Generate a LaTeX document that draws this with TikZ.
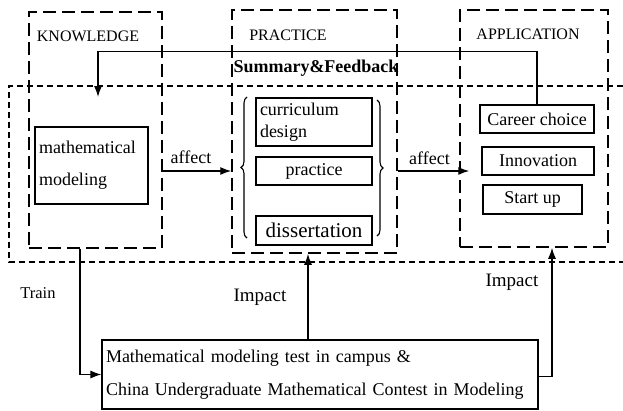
\documentclass[tikz,border=0pt]{standalone}
\usepackage{fontspec}
\setmainfont{Liberation Serif}
\usetikzlibrary{arrows.meta, decorations.pathreplacing}
\tikzset{group/.style={draw, line width=1.5pt, dash pattern=on 13pt off 6pt}}
\tikzset{region/.style={line width=1.1pt, dash pattern=on 6pt off 4pt}}
\tikzset{item/.style={draw, line width=1.1pt, inner sep=0pt, font=\fontsize{18}{22}\selectfont}}
\tikzset{flow/.style={line width=1.3pt, -{Latex[length=11pt, width=8pt]}}}
\tikzset{heading/.style={font=\fontsize{16}{19}\selectfont}}
\tikzset{tag/.style={font=\fontsize{18}{22}\selectfont}}
\tikzset{curly/.style={line width=1.1pt, decorate, decoration={brace, amplitude=6pt}}}

\begin{document}
\begin{tikzpicture}[x=1pt, y=-1pt]
            \useasboundingbox (0, 0) rectangle (623, 410);
            % the three stages
            \draw[region] (623, 86) -| (9, 262) -- (623, 262);
            \node[group, minimum width=133pt, minimum height=236pt] (knowledge) at (95.5, 130) {};
            \node[group, minimum width=165pt, minimum height=243pt] (practicegroup) at (314.5, 131.5) {};
            \node[group, minimum width=148pt, minimum height=237pt] (application) at (534, 128.5) {};
            \node[heading] (knowledgetitle) at (88, 36.5) {KNOWLEDGE};
            \node[heading] (practicetitle) at (288, 35) {PRACTICE};
            \node[heading] (applicationtitle) at (528, 34) {APPLICATION};
            % boxes
            \node[item, minimum width=113pt, minimum height=77pt, text width=105pt, align=left, font=\fontsize{18}{32}\selectfont] (modeling) at (91.5, 165.5) {mathematical\\modeling};
            \node[item, minimum width=116pt, minimum height=48pt, text width=108pt, align=left] (curriculum) at (314, 122) {curriculum\\design};
            \node[item, minimum width=116pt, minimum height=28pt] (practice) at (314, 171) {practice};
            \node[item, minimum width=116pt, minimum height=29pt, font=\fontsize{21}{25}\selectfont] (dissertation) at (314, 230.5) {dissertation};
            \node[item, minimum width=114pt, minimum height=28pt] (career) at (537, 119) {Career choice};
            \node[item, minimum width=112pt, minimum height=28pt] (innovation) at (538, 161) {Innovation};
            \node[item, minimum width=99pt, minimum height=29pt] (startup) at (532.5, 199.5) {Start up};
            \node[item, minimum width=436pt, minimum height=69pt, text width=428pt, align=left, font=\fontsize{18}{33}\selectfont] (contest) at (320, 374.5) {Mathematical modeling test in campus \&\\China Undergraduate Mathematical Contest in Modeling};
            % braces round the practice items
            \draw[curly] (247, 238) -- (247, 97);
            \draw[curly] (377, 100) -- (377, 236);
            % connectors
            \coordinate (fbend) at (98, 97);
            \coordinate (trainx) at (80, 0);
            \coordinate (impactx) at (308, 0);
            \coordinate (impacty) at (552, 0);
            \draw[flow] (knowledge.east |- practice.center) -- (practicegroup.west |- practice.center) node [midway, above, tag, xshift=-6pt, yshift=3pt] {affect};
            \draw[flow] (practicegroup.east |- practice.center) -- ([xshift=10pt]application.west |- practice.center) node [midway, above, tag, xshift=-4pt, yshift=2pt] {affect};
            \draw[flow] (career.north) -- ++(0, -53) -| (fbend);
            \node[tag, font=\bfseries\fontsize{18}{22}\selectfont] (feedback) at (316, 68) {Summary\&Feedback};
            \draw[flow] (knowledge.south -| trainx) |- (contest.west);
            \draw[flow] (contest.north -| impactx) -- (practicegroup.south -| impactx);
            \draw[flow] ([yshift=-2pt]contest.east) -| (application.south -| impacty);
            \node[tag, font=\fontsize{16.5}{20}\selectfont] (train) at (38, 293) {Train};
            \node[tag, font=\fontsize{19}{22}\selectfont] (impactmid) at (260, 297) {Impact};
            \node[tag, font=\fontsize{19}{22}\selectfont] (impactright) at (512, 282) {Impact};
        \end{tikzpicture}
\end{document}
